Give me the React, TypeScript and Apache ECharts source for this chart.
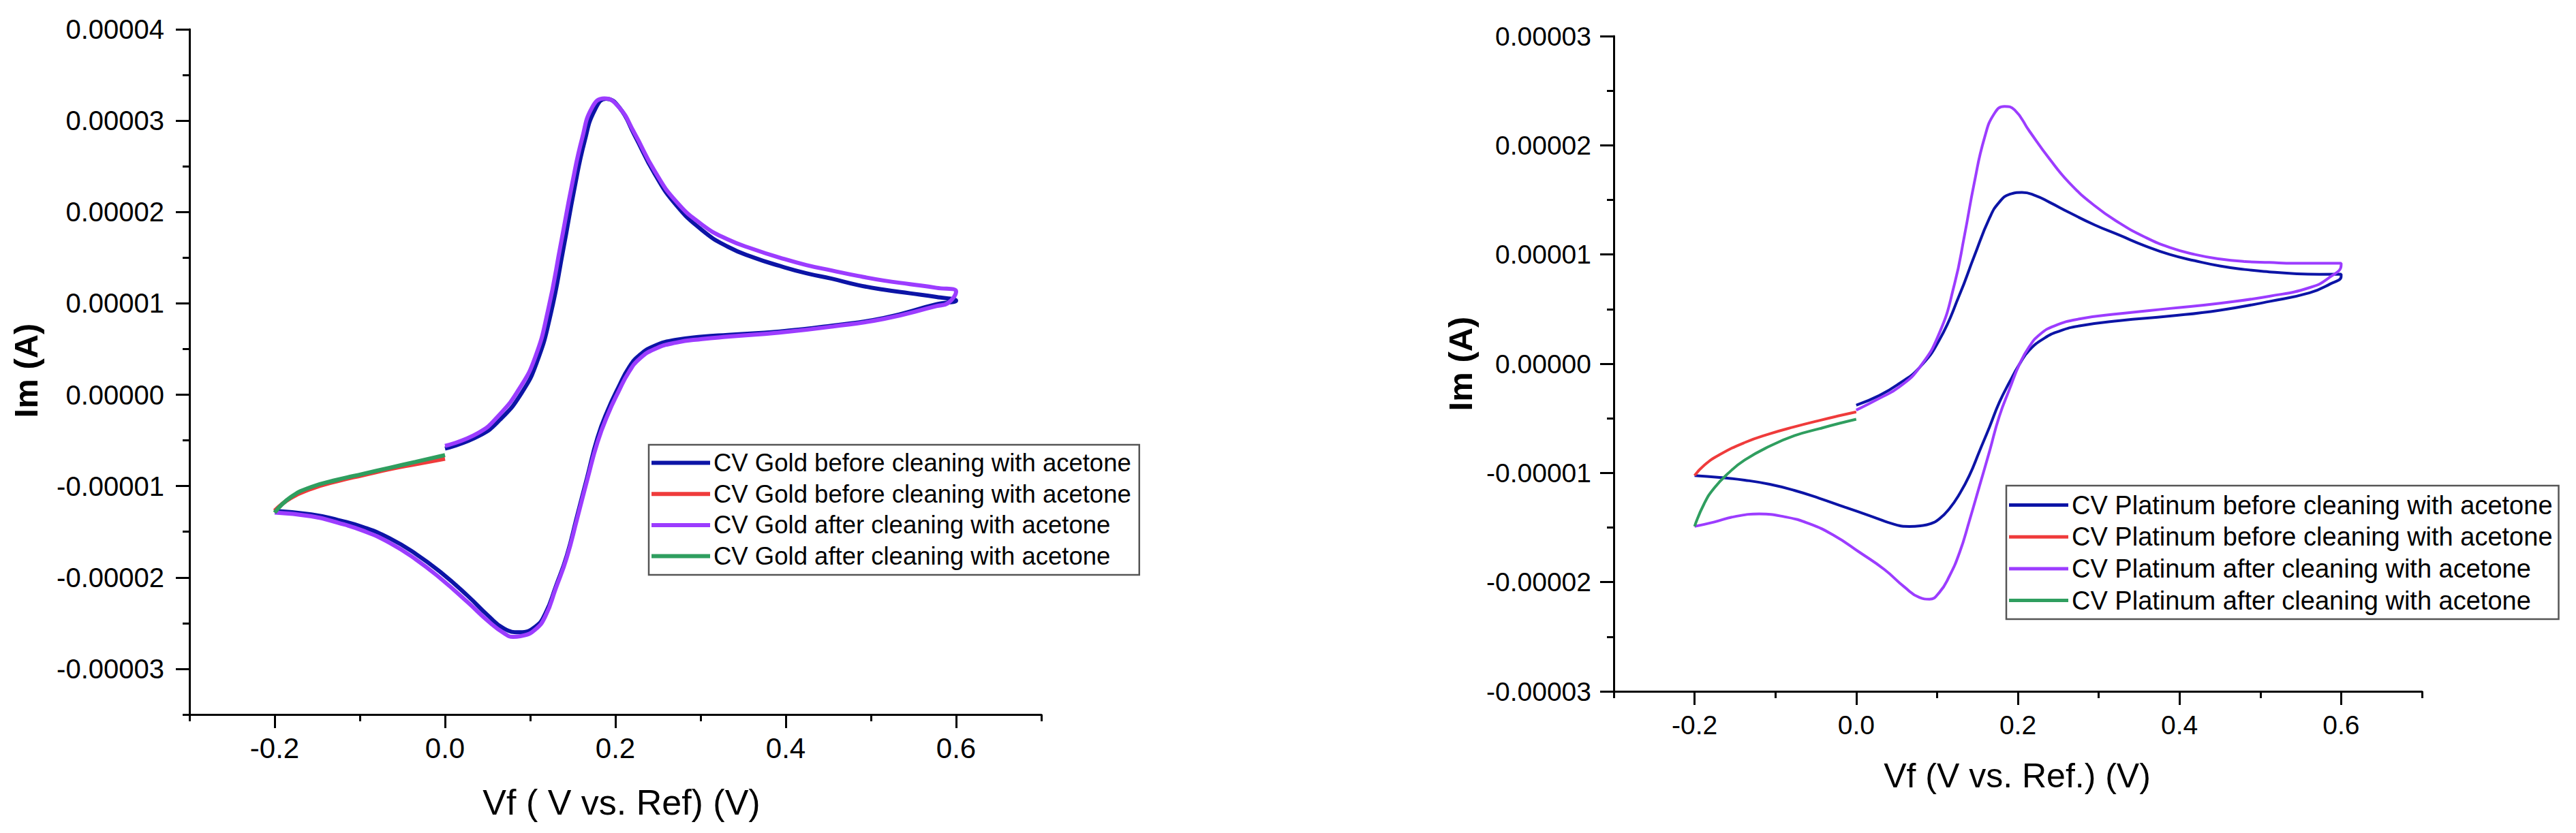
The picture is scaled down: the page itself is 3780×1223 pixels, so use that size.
import { useEffect, useRef } from 'react';
import * as echarts from 'echarts';

type P = [number, number];

// Values: x in V, y in units of 1e-5 A
const goldBeforeScan: P[] = [
  [0, -0.59], [0.04, -0.45], [0.065, -0.27], [0.09, 0.02], [0.108, 0.36], [0.124, 0.88], [0.139, 1.6],
  [0.152, 2.26], [0.164, 2.78], [0.176, 3.12], [0.189, 3.24], [0.205, 3.14], [0.222, 2.85], [0.246, 2.42],
  [0.271, 2.08], [0.302, 1.8], [0.332, 1.62], [0.363, 1.5], [0.393, 1.41], [0.424, 1.33], [0.454, 1.27],
  [0.485, 1.2], [0.515, 1.15], [0.546, 1.11], [0.577, 1.07], [0.6, 1.03],
  [0.577, 0.99], [0.515, 0.84], [0.454, 0.756], [0.393, 0.692], [0.332, 0.655], [0.302, 0.635], [0.271, 0.6],
  [0.246, 0.535], [0.228, 0.43], [0.216, 0.3], [0.204, 0.09], [0.191, -0.17], [0.179, -0.47], [0.167, -0.9],
  [0.155, -1.33], [0.143, -1.76], [0.13, -2.1], [0.118, -2.39], [0.106, -2.54], [0.0876, -2.6], [0.0693, -2.56],
  [0.0509, -2.42], [0.0265, -2.2], [-0.0041, -1.95], [-0.0346, -1.74], [-0.0652, -1.57], [-0.0958, -1.45],
  [-0.126, -1.37], [-0.157, -1.31], [-0.2, -1.27],
];
const goldBeforeReturn: P[] = [
  [-0.2, -1.27], [-0.181, -1.13], [-0.157, -1.03], [-0.126, -0.945], [-0.0958, -0.88], [-0.0652, -0.815],
  [-0.0346, -0.76], [0, -0.7],
];
const goldAfterScan: P[] = [
  [0, -0.56], [0.0387, -0.42], [0.0631, -0.227], [0.0876, 0.072], [0.106, 0.414], [0.121, 0.927], [0.136, 1.653],
  [0.149, 2.295], [0.161, 2.807], [0.173, 3.149], [0.187, 3.243], [0.204, 3.149], [0.222, 2.87], [0.246, 2.45],
  [0.271, 2.12], [0.302, 1.86], [0.332, 1.7], [0.363, 1.59], [0.393, 1.5], [0.424, 1.42], [0.454, 1.36],
  [0.485, 1.3], [0.515, 1.25], [0.546, 1.21], [0.577, 1.17], [0.6, 1.13],
  [0.59, 1.0], [0.577, 0.97], [0.515, 0.83], [0.454, 0.745], [0.393, 0.68], [0.332, 0.635], [0.302, 0.61],
  [0.271, 0.57], [0.246, 0.5], [0.228, 0.39], [0.216, 0.25], [0.204, 0.04], [0.191, -0.22], [0.179, -0.52],
  [0.167, -0.93], [0.155, -1.36], [0.143, -1.78], [0.13, -2.12], [0.118, -2.42], [0.106, -2.57], [0.09, -2.64],
  [0.08, -2.65], [0.0693, -2.61], [0.0509, -2.48], [0.0265, -2.27], [-0.0041, -2.02], [-0.0346, -1.8],
  [-0.0652, -1.62], [-0.0958, -1.49], [-0.126, -1.4], [-0.157, -1.33], [-0.2, -1.29],
];
const goldAfterReturn: P[] = [
  [-0.2, -1.29], [-0.181, -1.12], [-0.157, -1.01], [-0.126, -0.93], [-0.0958, -0.865], [-0.0652, -0.8],
  [-0.0346, -0.735], [0, -0.66],
];

const ptBeforeScan: P[] = [
  [0, -0.38], [0.0287, -0.291], [0.0535, -0.18], [0.0782, -0.036], [0.103, 0.219], [0.128, 0.634], [0.146, 0.984],
  [0.165, 1.335], [0.177, 1.479], [0.19, 1.552], [0.205, 1.568], [0.221, 1.542], [0.239, 1.479], [0.264, 1.383],
  [0.295, 1.271], [0.326, 1.176], [0.357, 1.08], [0.388, 1.0], [0.419, 0.943], [0.45, 0.895], [0.4805, 0.863],
  [0.511, 0.841], [0.542, 0.825], [0.573, 0.819], [0.6, 0.82],
  [0.6, 0.8], [0.586, 0.729], [0.561, 0.649], [0.511, 0.57], [0.45, 0.49], [0.388, 0.436], [0.326, 0.394],
  [0.276, 0.346], [0.2515, 0.299], [0.233, 0.235], [0.214, 0.123], [0.202, -0.004], [0.19, -0.164],
  [0.177, -0.355], [0.165, -0.578], [0.1525, -0.801], [0.14, -1.024], [0.128, -1.19], [0.115, -1.33],
  [0.103, -1.42], [0.092, -1.465], [0.0795, -1.484], [0.0658, -1.49], [0.0473, -1.471], [0.0164, -1.391],
  [-0.0146, -1.312], [-0.0456, -1.232], [-0.0765, -1.16], [-0.107, -1.104], [-0.138, -1.066], [-0.169, -1.041],
  [-0.2, -1.024],
];
const ptBeforeReturn: P[] = [
  [-0.2, -1.024], [-0.188, -0.929], [-0.169, -0.833], [-0.138, -0.722], [-0.107, -0.642], [-0.0765, -0.578],
  [-0.0456, -0.52], [-0.0208, -0.476], [0, -0.441],
];
const ptAfterScan: P[] = [
  [0, -0.425], [0.0287, -0.317], [0.0535, -0.211], [0.0782, -0.036], [0.103, 0.283], [0.1216, 0.729],
  [0.134, 1.176], [0.146, 1.654], [0.1587, 2.068], [0.171, 2.292], [0.1835, 2.356], [0.196, 2.324],
  [0.214, 2.133], [0.239, 1.877], [0.264, 1.654], [0.295, 1.447], [0.326, 1.287], [0.357, 1.16], [0.388, 1.064],
  [0.419, 1.0], [0.45, 0.959], [0.4805, 0.936], [0.511, 0.927], [0.542, 0.92], [0.573, 0.92], [0.6, 0.92],
  [0.6, 0.905], [0.586, 0.793], [0.561, 0.697], [0.511, 0.618], [0.45, 0.554], [0.388, 0.506], [0.326, 0.458],
  [0.276, 0.41], [0.245, 0.346], [0.227, 0.267], [0.214, 0.155], [0.202, -0.004], [0.19, -0.227],
  [0.177, -0.482], [0.165, -0.801], [0.1525, -1.12], [0.14, -1.439], [0.128, -1.726], [0.115, -1.949],
  [0.103, -2.093], [0.0906, -2.156], [0.0782, -2.14], [0.0597, -2.045], [0.035, -1.885], [0.004, -1.726],
  [-0.027, -1.575], [-0.058, -1.465], [-0.089, -1.401], [-0.12, -1.376], [-0.151, -1.401], [-0.1755, -1.449],
  [-0.2, -1.49],
];
const ptAfterReturn: P[] = [
  [-0.2, -1.49], [-0.188, -1.28], [-0.1755, -1.137], [-0.157, -0.994], [-0.138, -0.882], [-0.107, -0.755],
  [-0.0765, -0.659], [-0.0456, -0.595], [-0.0208, -0.546], [0, -0.508],
];

const xMajorTicks = [-0.2, 0, 0.2, 0.4, 0.6];
const goldYTicks = [-3, -2, -1, 0, 1, 2, 3, 4];
const ptYTicks = [-3, -2, -1, 0, 1, 2, 3];

const goldLabels = [
  'CV Gold before cleaning with acetone',
  'CV Gold before cleaning with acetone',
  'CV Gold after cleaning with acetone',
  'CV Gold after cleaning with acetone',
];
const ptLabels = [
  'CV Platinum before cleaning with acetone',
  'CV Platinum before cleaning with acetone',
  'CV Platinum after cleaning with acetone',
  'CV Platinum after cleaning with acetone',
];
const colors = ['#0c14a6', '#ef3b3b', '#9c3cff', '#2f9e5f'];

const FONT = '"Liberation Sans", Arial, sans-serif';

function buildOption() {
  const goldData = [goldBeforeScan, goldBeforeReturn, goldAfterScan, goldAfterReturn];
  const ptData = [ptBeforeScan, ptBeforeReturn, ptAfterScan, ptAfterReturn];
  const goldIds = goldLabels.map((_, i) => 'gold' + i);
  const ptIds = ptLabels.map((_, i) => 'pt' + i);
  const labelMap: Record<string, string> = {};
  goldIds.forEach((id, i) => (labelMap[id] = goldLabels[i]));
  ptIds.forEach((id, i) => (labelMap[id] = ptLabels[i]));

  const axisLine = { show: true, onZero: false, lineStyle: { color: '#000', width: 3 } };
  const tickStyle = { color: '#000', width: 3 };

  const makeX = (g: number, fontSize: number, margin: number) => [
    {
      gridIndex: g, type: 'value', position: 'bottom', min: -0.3, max: 0.7,
      axisLine,
      axisTick: { show: true, customValues: xMajorTicks, length: 20, lineStyle: tickStyle },
      axisLabel: {
        customValues: xMajorTicks, formatter: (v: number) => v.toFixed(1), fontSize, margin,
        color: '#000', fontFamily: FONT,
      },
      splitLine: { show: false },
    },
    {
      gridIndex: g, type: 'value', position: 'bottom', min: -0.3, max: 0.7, interval: 0.1,
      axisLine: { show: false, onZero: false },
      axisTick: { show: true, length: 10, lineStyle: tickStyle },
      axisLabel: { show: false },
      splitLine: { show: false },
    },
  ];
  const makeY = (g: number, min: number, max: number, ticks: number[], fontSize: number, margin: number) => [
    {
      gridIndex: g, type: 'value', position: 'left', min, max,
      axisLine,
      axisTick: { show: true, customValues: ticks, length: 20, lineStyle: tickStyle },
      axisLabel: {
        customValues: ticks, formatter: (v: number) => (v * 1e-5).toFixed(5), fontSize, margin,
        color: '#000', fontFamily: FONT,
      },
      splitLine: { show: false },
    },
    {
      gridIndex: g, type: 'value', position: 'left', min, max, interval: 0.5,
      axisLine: { show: false, onZero: false },
      axisTick: { show: true, length: 10, lineStyle: tickStyle },
      axisLabel: { show: false },
      splitLine: { show: false },
    },
  ];

  const series: any[] = [];
  goldData.forEach((d, i) =>
    series.push({
      name: goldIds[i], type: 'line', xAxisIndex: 0, yAxisIndex: 0, data: d, showSymbol: false, symbol: 'none',
      smooth: 0.5, color: colors[i], lineStyle: { width: 6, color: colors[i] },
    })
  );
  ptData.forEach((d, i) =>
    series.push({
      name: ptIds[i], type: 'line', xAxisIndex: 2, yAxisIndex: 2, data: d, showSymbol: false, symbol: 'none',
      smooth: 0.5, color: colors[i], lineStyle: { width: 4, color: colors[i] },
    })
  );

  const legendBase = {
    orient: 'vertical', icon: 'rect', selectedMode: false,
    borderColor: '#555', borderWidth: 2.5, backgroundColor: '#fff',
    formatter: (name: string) => labelMap[name],
  };

  return {
    animation: false,
    backgroundColor: '#fff',
    grid: [
      { left: 278, top: 43, width: 1250, height: 1006, outerBoundsMode: 'none', containLabel: false },
      { left: 2368, top: 53, width: 1186, height: 962, outerBoundsMode: 'none', containLabel: false },
    ],
    xAxis: [...makeX(0, 42, 28), ...makeX(1, 39, 30)],
    yAxis: [...makeY(0, -3.5, 4, goldYTicks, 40, 37), ...makeY(1, -3, 3, ptYTicks, 39, 33)],
    legend: [
      {
        ...legendBase, data: goldIds, left: 952, top: 653, padding: [8, 12, 9, 4], itemGap: 8.7, itemWidth: 86,
        itemHeight: 6, textStyle: { fontSize: 36.5, color: '#000', fontFamily: FONT },
      },
      {
        ...legendBase, data: ptIds, left: 2944, top: 713, padding: [9.5, 9, 8.5, 4], itemGap: 8.7, itemWidth: 87,
        itemHeight: 5, textStyle: { fontSize: 38, color: '#000', fontFamily: FONT },
      },
    ],
    graphic: [
      {
        type: 'text', x: 912, y: 1178,
        style: { text: 'Vf ( V vs. Ref) (V)', fontSize: 52, fontFamily: FONT, fill: '#000', align: 'center', verticalAlign: 'middle' },
      },
      {
        type: 'text', x: 2960, y: 1139,
        style: { text: 'Vf (V vs. Ref.) (V)', fontSize: 50, fontFamily: FONT, fill: '#000', align: 'center', verticalAlign: 'middle' },
      },
      {
        type: 'text', x: 38, y: 544, rotation: Math.PI / 2,
        style: { text: 'Im (A)', fontSize: 49, fontWeight: 'bold', fontFamily: FONT, fill: '#000', align: 'center', verticalAlign: 'middle' },
      },
      {
        type: 'text', x: 2143, y: 534, rotation: Math.PI / 2,
        style: { text: 'Im (A)', fontSize: 49, fontWeight: 'bold', fontFamily: FONT, fill: '#000', align: 'center', verticalAlign: 'middle' },
      },
    ],
    series,
  };
}

export default function App() {
  const ref = useRef<HTMLDivElement>(null);
  useEffect(() => {
    document.body.style.margin = '0';
    const chart = echarts.init(ref.current!, null, { renderer: 'svg', width: 3780, height: 1223 });
    chart.setOption(buildOption() as any);
    return () => chart.dispose();
  }, []);
  return <div ref={ref} style={{ width: 3780, height: 1223, background: '#fff' }} />;
}
